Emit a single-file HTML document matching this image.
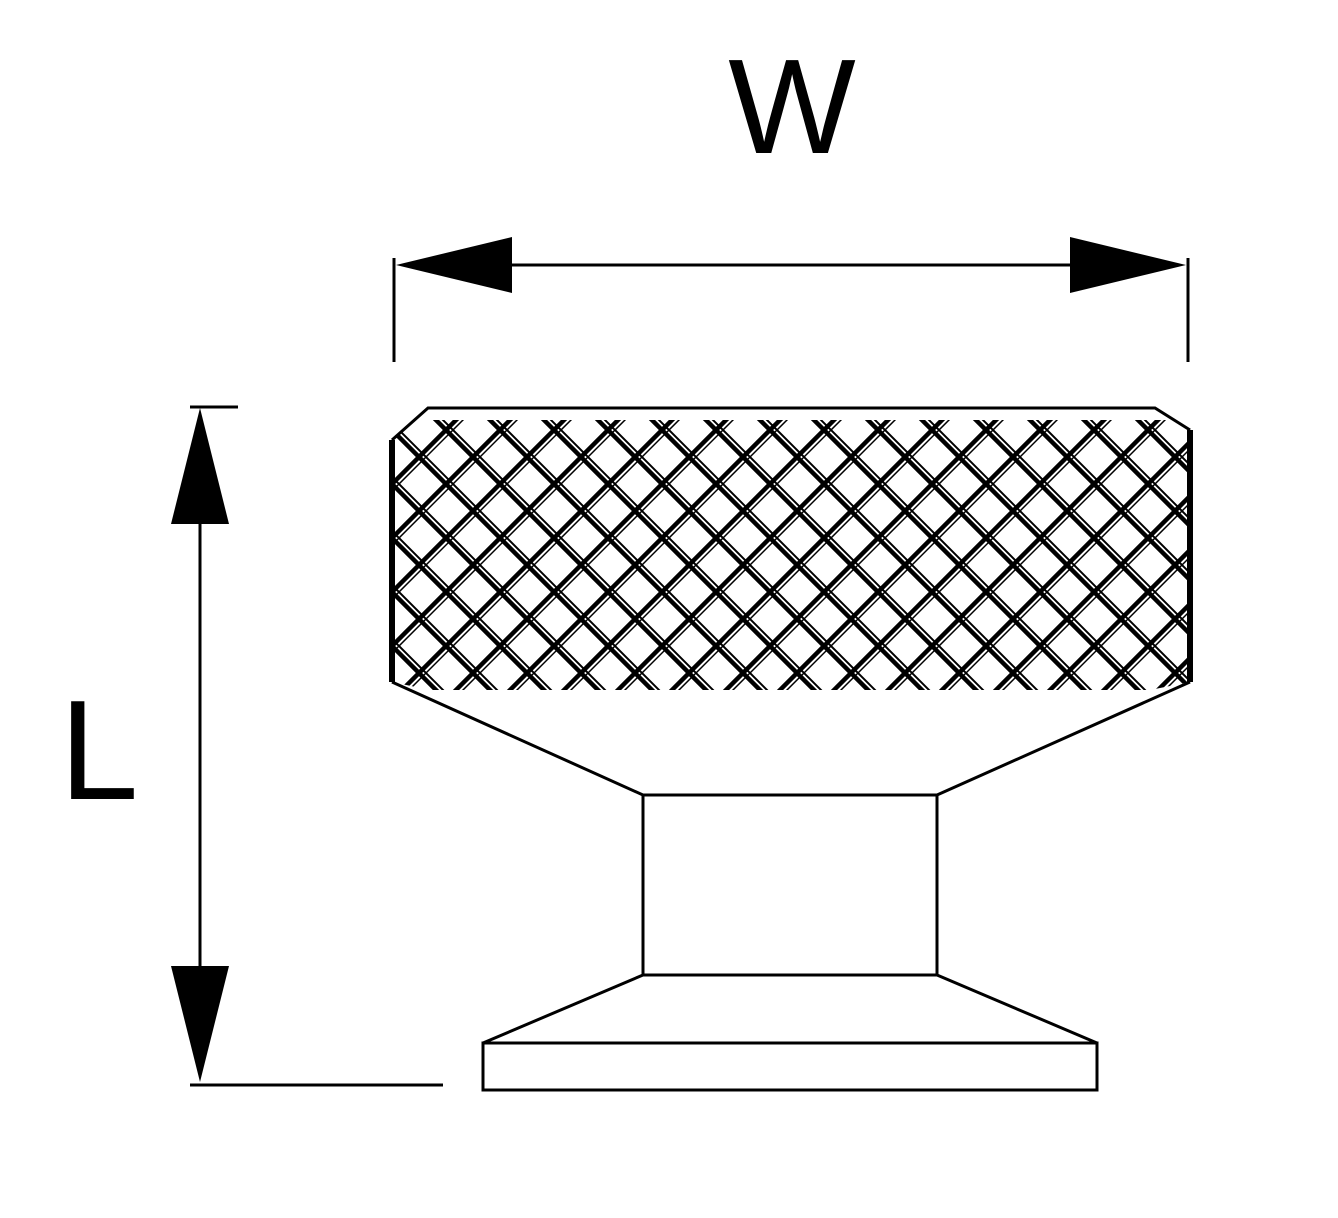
<!DOCTYPE html>
<html><head><style>html,body{margin:0;padding:0;background:#fff}svg{display:block}</style></head>
<body>
<svg width="1338" height="1218" viewBox="0 0 1338 1218" xmlns="http://www.w3.org/2000/svg">
<defs>
<pattern id="k" width="54" height="54" patternUnits="userSpaceOnUse" x="392" y="430">
<g stroke="#000" stroke-width="4.5" fill="none">
<path d="M-10 -10 L64 64 M-10 44 L10 64 M44 -10 L64 10"/>
<path d="M-10 64 L64 -10 M-10 10 L10 -10 M44 64 L64 44"/>
<path d="M-3 -10 L71 64 M-3 44 L17 64 M51 -10 L71 10" stroke-width="2"/>
<path d="M-3 64 L71 -10 M-3 10 L17 -10 M51 64 L71 44" stroke-width="1.5"/>
</g>
</pattern>
<clipPath id="c"><path d="M392 440 L428 408 L1155 408 L1190 430 L1190 682 L1150 690 L430 690 L392 682 Z"/></clipPath>
</defs>
<text x="792" y="153" font-family="Liberation Sans, sans-serif" font-size="135" text-anchor="middle">W</text>
<text x="99" y="799" font-family="Liberation Sans, sans-serif" font-size="142" text-anchor="middle">L</text>
<g stroke="#000" stroke-width="3" fill="none">
<line x1="394" y1="258" x2="394" y2="362"/>
<line x1="1188" y1="258" x2="1188" y2="362"/>
<line x1="500" y1="265" x2="1080" y2="265"/>
<line x1="200" y1="510" x2="200" y2="980"/>
<line x1="190" y1="407" x2="238" y2="407"/>
<line x1="190" y1="1085" x2="443" y2="1085"/>
</g>
<polygon points="396,265 512,237 512,293" fill="#000"/>
<polygon points="1186,265 1070,237 1070,293" fill="#000"/>
<polygon points="200,408 171,524 229,524" fill="#000"/>
<polygon points="200,1082 171,966 229,966" fill="#000"/>
<rect x="392" y="420" width="798" height="270" fill="url(#k)" clip-path="url(#c)"/>
<g stroke="#000" stroke-width="3" fill="none" stroke-linejoin="miter">
<path d="M392 440 L428 408 L1155 408 L1190 430"/>
<path d="M392 440 L392 682 M1190 430 L1190 682" stroke-width="6"/>
<path d="M392 682 L643 795 L937 795 L1190 682"/>
<rect x="643" y="795" width="294" height="180"/>
<path d="M643 975 L483 1043 L1097 1043 L937 975"/>
<rect x="483" y="1043" width="614" height="47"/>
</g>
</svg>
</body></html>
